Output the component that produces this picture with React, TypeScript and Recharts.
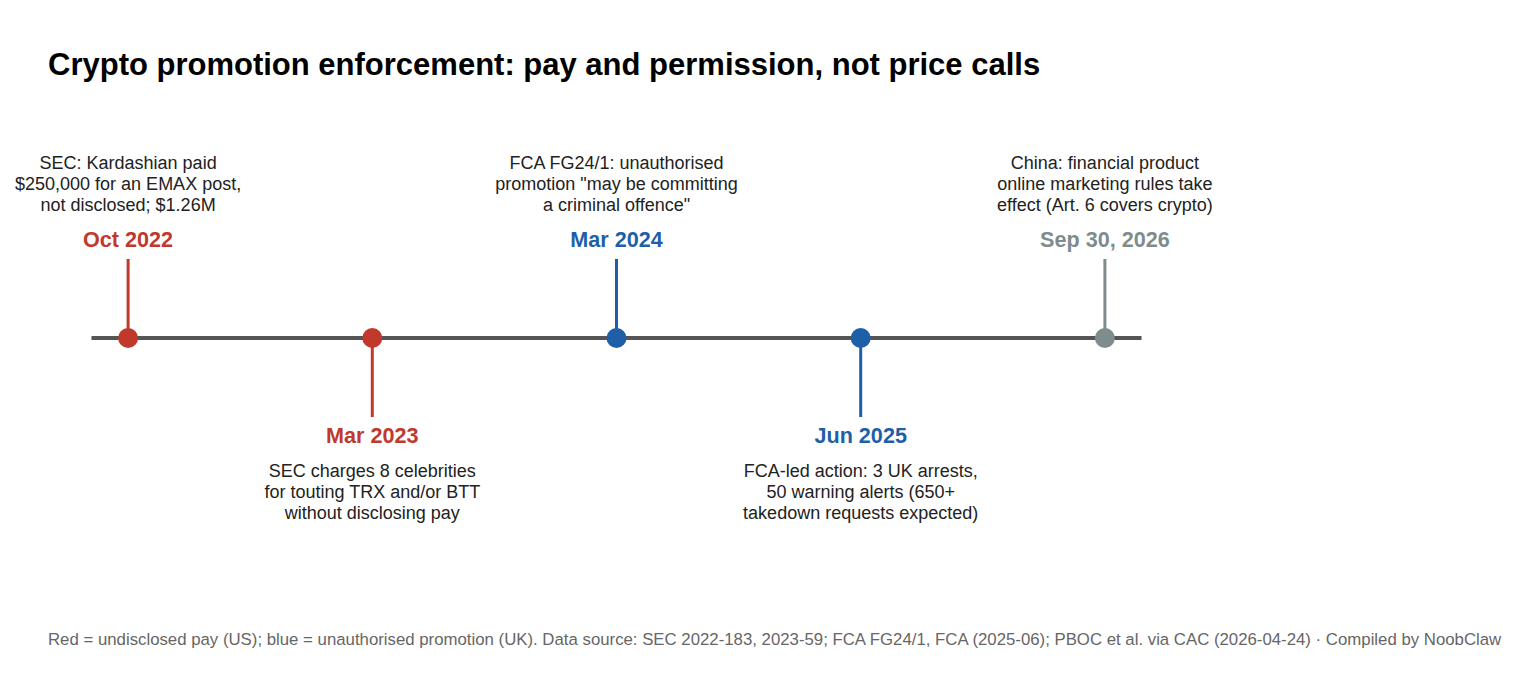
import { ComposedChart, Line, Scatter, XAxis, YAxis, ReferenceLine, Cell } from 'recharts';

const FONT = '"Liberation Sans", Arial, Helvetica, sans-serif';

// event data
const dates = ['Oct 2022', 'Mar 2023', 'Mar 2024', 'Jun 2025', 'Sep 30, 2026'];
const slots = [0, 1, 2, 3, 4];
const sides = [1, -1, 1, -1, 1]; // 1 = label above, -1 = below
const groups = ['us', 'us', 'uk', 'uk', 'cn'];
const notes = [
  ['SEC: Kardashian paid', '$250,000 for an EMAX post,', 'not disclosed; $1.26M'],
  ['SEC charges 8 celebrities', 'for touting TRX and/or BTT', 'without disclosing pay'],
  ['FCA FG24/1: unauthorised', 'promotion "may be committing', 'a criminal offence"'],
  ['FCA-led action: 3 UK arrests,', '50 warning alerts (650+', 'takedown requests expected)'],
  ['China: financial product', 'online marketing rules take', 'effect (Art. 6 covers crypto)'],
];
const axisSpan = [-0.15, 4.15];

const groupColors: Record<string, string> = {
  us: '#c0392b',
  uk: '#1f5fa8',
  cn: '#7f8c8d',
};

const events = slots.map((x, i) => ({
  x,
  y: 0,
  tip: sides[i],
  date: dates[i],
  note: notes[i],
  color: groupColors[groups[i]],
}));
const tips = events.map((e) => ({ ...e, y: e.tip }));
const baseline = axisSpan.map((x) => ({ x, y: 0 }));

const Dot = (props: any) => {
  const { cx, cy, payload } = props;
  return <circle cx={cx} cy={cy} r={10} fill={payload.color} />;
};

const Label = (props: any) => {
  const { cx, cy, payload } = props;
  const up = payload.tip > 0;
  const lh = 20.8;
  const dateY = up ? cy - 12 : cy + 26;
  const firstNote = up ? cy - 90 : cy + 60;
  return (
    <g fontFamily={FONT}>
      <text x={cx} y={dateY} textAnchor="middle" fontSize={21.6} fontWeight="bold" fill={payload.color}>
        {payload.date}
      </text>
      {payload.note.map((line: string, j: number) => (
        <text key={j} x={cx} y={firstNote + j * lh} textAnchor="middle" fontSize={18} fill="#222">
          {line}
        </text>
      ))}
    </g>
  );
};

export default function App() {
  return (
    <div style={{ position: 'absolute', left: 0, top: 0, width: 1515, height: 676, background: '#fff', fontFamily: FONT }}>
      <div style={{ position: 'absolute', left: 48, top: 49, fontSize: 31, lineHeight: '31px', fontWeight: 'bold', color: '#000', whiteSpace: 'nowrap' }}>
        Crypto promotion enforcement: pay and permission, not price calls
      </div>
      <ComposedChart width={1515} height={676} margin={{ top: 101, right: 288, bottom: 101, left: 6 }}>
        <XAxis type="number" dataKey="x" domain={[-0.5, 4.5]} hide />
        <YAxis type="number" dataKey="y" domain={[-3, 3]} hide />
        <Line data={baseline} dataKey="y" stroke="#555555" strokeWidth={4} dot={false} isAnimationActive={false} />
        {events.map((e, i) => (
          <ReferenceLine
            key={i}
            segment={[{ x: e.x, y: 0 }, { x: e.x, y: e.tip }]}
            stroke={e.color}
            strokeWidth={3}
          />
        ))}
        <Scatter data={tips} shape={<Label />} isAnimationActive={false} />
        <Scatter data={events} shape={<Dot />} isAnimationActive={false}>
          {events.map((e, i) => (
            <Cell key={i} fill={e.color} />
          ))}
        </Scatter>
      </ComposedChart>
      <div style={{ position: 'absolute', left: 48, top: 632, fontSize: 16.8, lineHeight: '16.8px', color: '#666', whiteSpace: 'nowrap' }}>
        Red = undisclosed pay (US); blue = unauthorised promotion (UK). Data source: SEC 2022-183, 2023-59; FCA FG24/1, FCA (2025-06); PBOC et al. via CAC (2026-04-24) · Compiled by NoobClaw
      </div>
    </div>
  );
}
